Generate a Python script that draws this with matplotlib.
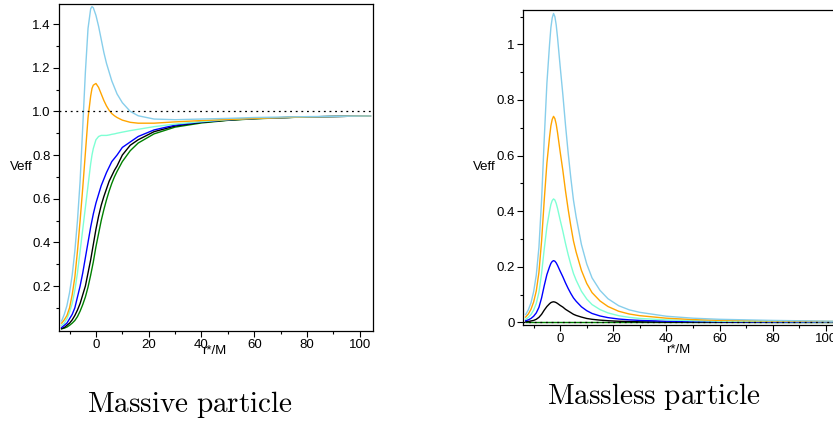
import numpy as np
import matplotlib
matplotlib.use("Agg")
import matplotlib.pyplot as plt
from matplotlib.ticker import FixedLocator

plt.rcParams["font.family"] = ["Liberation Sans", "DejaVu Sans"]
plt.rcParams["mathtext.fontset"] = "cm"

colors = ["#87ceeb", "orange", "#7fffd4", "blue", "black", "green"]

# massive particle, r*/M vs Veff
x_massive = [-13, -12, -11, -10, -9, -8, -7, -6, -5, -4, -3, -2, -1.5, -1, 0, 1, 2, 3, 4, 5, 6,
             7, 8, 10, 13, 16, 22, 30, 40, 50, 60, 80, 104]
sky_massive = [0.04, 0.07, 0.11, 0.17, 0.25, 0.36, 0.50, 0.68, 0.93, 1.18, 1.38, 1.47, 1.48, 1.475,
               1.44, 1.39, 1.33, 1.27, 1.22, 1.18, 1.14, 1.11, 1.08, 1.04, 1.0, 0.98, 0.965, 0.962,
               0.965, 0.968, 0.972, 0.976, 0.979]
orange_massive = [0.03, 0.045, 0.065, 0.1, 0.16, 0.24, 0.36, 0.5, 0.65, 0.81, 0.97, 1.07, 1.105, 1.12,
                  1.128, 1.11, 1.08, 1.05, 1.025, 1.005, 0.99, 0.98, 0.972, 0.96, 0.95, 0.946, 0.946,
                  0.952, 0.958, 0.963, 0.968, 0.975, 0.979]
aqua_massive = [0.02, 0.03, 0.05, 0.08, 0.12, 0.18, 0.26, 0.36, 0.46, 0.56, 0.66, 0.76, 0.80, 0.83,
                0.87, 0.885, 0.89, 0.89, 0.89, 0.892, 0.895, 0.897, 0.9, 0.905, 0.912, 0.918, 0.93,
                0.942, 0.953, 0.962, 0.968, 0.975, 0.979]
blue_massive = [0.01, 0.02, 0.03, 0.05, 0.07, 0.1, 0.15, 0.2, 0.26, 0.33, 0.40, 0.47, 0.50, 0.53,
                0.58, 0.62, 0.66, 0.69, 0.72, 0.745, 0.77, 0.785, 0.80, 0.835, 0.86, 0.885, 0.915,
                0.937, 0.952, 0.962, 0.968, 0.975, 0.979]
black_massive = [0.005, 0.01, 0.02, 0.03, 0.045, 0.065, 0.09, 0.12, 0.16, 0.2, 0.26, 0.32, 0.355, 0.39,
                 0.46, 0.52, 0.57, 0.61, 0.645, 0.68, 0.705, 0.73, 0.75, 0.80, 0.845, 0.87, 0.907,
                 0.933, 0.95, 0.96, 0.967, 0.975, 0.979]
green_massive = [0.004, 0.007, 0.012, 0.02, 0.03, 0.042, 0.06, 0.085, 0.115, 0.15, 0.195, 0.25, 0.28,
                 0.31, 0.38, 0.44, 0.50, 0.55, 0.595, 0.635, 0.67, 0.70, 0.725, 0.77, 0.82, 0.855, 0.897,
                 0.928, 0.947, 0.959, 0.966, 0.975, 0.979]

# massless particle
x_massless = [-13, -12, -11, -10, -9, -8, -7, -6, -5, -4, -3.5, -3, -2.5, -2, -1.5, -1, 0, 1, 2, 3,
              4, 5, 6, 8, 10, 12, 15, 18, 22, 26, 30, 40, 50, 60, 80, 104]
sky_massless = [0.028, 0.045, 0.07, 0.11, 0.17, 0.27, 0.44, 0.66, 0.86, 1.0, 1.06, 1.095, 1.111, 1.10,
                1.07, 1.025, 0.92, 0.82, 0.71, 0.61, 0.52, 0.44, 0.38, 0.28, 0.21, 0.16, 0.115,
                0.085, 0.06, 0.045, 0.036, 0.022, 0.015, 0.011, 0.007, 0.004]
orange_massless = [0.019, 0.030, 0.047, 0.073, 0.113, 0.18, 0.293, 0.44, 0.573, 0.667, 0.707, 0.73,
                   0.741, 0.733, 0.713, 0.683, 0.613, 0.547, 0.473, 0.407, 0.347, 0.293, 0.253,
                   0.187, 0.14, 0.107, 0.077, 0.057, 0.04, 0.03, 0.024, 0.015, 0.01, 0.007, 0.005,
                   0.003]
aqua_massless = [0.011, 0.018, 0.028, 0.044, 0.068, 0.108, 0.176, 0.264, 0.344, 0.4, 0.424, 0.438,
                 0.444, 0.44, 0.428, 0.41, 0.368, 0.328, 0.284, 0.244, 0.208, 0.176, 0.152, 0.112,
                 0.084, 0.064, 0.046, 0.034, 0.024, 0.018, 0.014, 0.009, 0.006, 0.004, 0.003, 0.002]
blue_massless = [0.006, 0.009, 0.014, 0.022, 0.034, 0.054, 0.088, 0.132, 0.172, 0.2, 0.212, 0.219,
                 0.222, 0.22, 0.214, 0.205, 0.184, 0.164, 0.142, 0.122, 0.104, 0.088, 0.076, 0.056,
                 0.042, 0.032, 0.023, 0.017, 0.012, 0.009, 0.007, 0.004, 0.003, 0.002, 0.001, 0.001]
black_massless = [0.002, 0.003, 0.005, 0.007, 0.011, 0.018, 0.029, 0.044, 0.057, 0.067, 0.071, 0.073,
                  0.074, 0.073, 0.071, 0.068, 0.061, 0.055, 0.047, 0.041, 0.035, 0.029, 0.025, 0.019,
                  0.014, 0.011, 0.008, 0.006, 0.004, 0.003, 0.002, 0.001, 0.001, 0.001, 0.0, 0.0]
green_massless = [0.0] * len(x_massless)

W, H = 833, 421
fig = plt.figure(figsize=(W / 100, H / 100), dpi=100)


def px_axes(l, t, r, b):
    return fig.add_axes([l / W, 1 - b / H, (r - l) / W, (b - t) / H])


def style(ax):
    ax.tick_params(which="both", direction="out", top=False, right=False, labelsize=9.5, width=0.8)
    ax.tick_params(which="major", length=4, pad=2)
    ax.tick_params(which="minor", length=2.5)
    for s in ax.spines.values():
        s.set_linewidth(0.9)


ax1 = px_axes(59, 4, 373, 331)
for ys, c in zip([green_massive, black_massive, blue_massive, aqua_massive, orange_massive, sky_massive],
                 colors[::-1]):
    ax1.plot(x_massive, ys, color=c, lw=1.0)
ax1.axhline(1.0, color="black", ls=(0, (1.5, 3)), lw=0.9)
ax1.set_xlim(-14, 105)
ax1.set_ylim(-0.006, 1.492)
ax1.xaxis.set_major_locator(FixedLocator([0, 20, 40, 60, 80, 100]))
ax1.xaxis.set_minor_locator(FixedLocator([-10, 10, 30, 50, 70, 90]))
ax1.yaxis.set_major_locator(FixedLocator([0.2, 0.4, 0.6, 0.8, 1.0, 1.2, 1.4]))
ax1.yaxis.set_minor_locator(FixedLocator([0.1, 0.3, 0.5, 0.7, 0.9, 1.1, 1.3]))
ax1.set_yticklabels(["0.2", "0.4", "0.6", "0.8", "1.0", "1.2", "1.4"])
style(ax1)

ax2 = px_axes(523, 10, 839, 325)
for ys, c in zip([green_massless, black_massless, blue_massless, aqua_massless, orange_massless, sky_massless],
                 colors[::-1]):
    ax2.plot(x_massless, ys, color=c, lw=1.0)
ax2.axhline(0.0, color="black", ls=(0, (1.5, 3)), lw=0.9)
ax2.set_xlim(-14, 105)
ax2.set_ylim(-0.0095, 1.1235)
ax2.xaxis.set_major_locator(FixedLocator([0, 20, 40, 60, 80, 100]))
ax2.xaxis.set_minor_locator(FixedLocator([-10, 10, 30, 50, 70, 90]))
ax2.yaxis.set_major_locator(FixedLocator([0, 0.2, 0.4, 0.6, 0.8, 1.0]))
ax2.yaxis.set_minor_locator(FixedLocator([0.1, 0.3, 0.5, 0.7, 0.9, 1.1]))
ax2.set_yticklabels(["0", "0.2", "0.4", "0.6", "0.8", "1"])
style(ax2)

fig.text(21 / W, 1 - 167 / H, "Veff", fontsize=9.5, ha="center", va="center")
fig.text(484 / W, 1 - 167 / H, "Veff", fontsize=9.5, ha="center", va="center")
fig.text(214 / W, 1 - 351 / H, "r*/M", fontsize=9.5, ha="center", va="center")
fig.text(678 / W, 1 - 350 / H, "r*/M", fontsize=9.5, ha="center", va="center")

fig.text(190 / W, 1 - 405 / H, r"$\mathrm{Massive\ particle}$", fontsize=21, ha="center", va="center")
fig.text(654 / W, 1 - 397 / H, r"$\mathrm{Massless\ particle}$", fontsize=21, ha="center", va="center")

fig.savefig("out.png", dpi=100)
